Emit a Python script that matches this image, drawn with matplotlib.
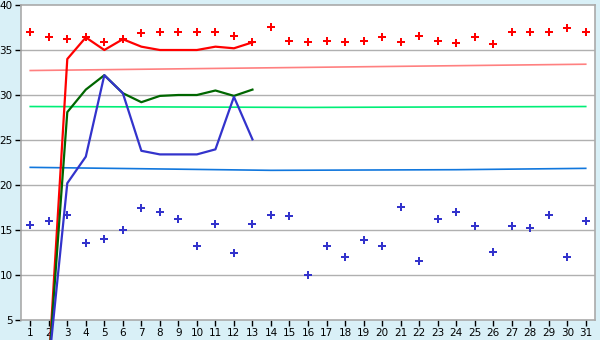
import matplotlib
matplotlib.use("Agg")
import matplotlib.pyplot as plt
import numpy as np

days = list(range(1, 32))

red_pts = [37.0, 36.4, 36.2, 36.4, 35.85, 36.2, 36.85, 36.96, 37.0, 37.0,
           37.0, 36.6, 35.85, 37.6, 35.96, 35.85, 35.96, 35.85, 35.96, 36.4,
           35.85, 36.6, 35.96, 35.74, 36.4, 35.63, 36.96, 37.0, 37.0, 37.5, 37.0]
blue_pts = [15.52, 15.96, 16.63, 13.52, 13.96, 14.96, 17.41, 16.97, 16.19, 13.19,
            15.63, 12.41, 15.63, 16.63, 16.52, 10.0, 13.19, 11.96, 13.85, 13.19,
            17.52, 11.52, 16.19, 16.97, 15.41, 12.52, 15.41, 15.19, 16.63, 11.96, 15.96]

line_days = list(range(2, 14))
red_line = [0.0, 34.0, 36.4, 35.0, 36.2, 35.37, 35.0, 35.0, 35.0, 35.37, 35.19, 35.85]
green_line = [0.0, 28.1, 30.6, 32.2, 30.2, 29.2, 29.9, 30.0, 30.0, 30.5, 29.9, 30.6]
blue_line = [0.0, 20.2, 23.15, 32.2, 30.2, 23.8, 23.4, 23.4, 23.4, 23.96, 29.8, 25.07]

pink_days = [1, 31]
pink_vals = [32.72, 33.42]
lgreen_days = [1, 16, 31]
lgreen_vals = [28.72, 28.62, 28.72]
lblue_days = [1, 14, 24, 31]
lblue_vals = [21.96, 21.63, 21.70, 21.85]

yticks = [5, 10, 15, 20, 25, 30, 35, 40]

bg = "#D9F0F7"
fig = plt.figure(figsize=(6, 3.4), dpi=100, facecolor=bg)
ax = fig.add_axes([21/600, 20/340, 574/600, 315/340])
ax.set_facecolor("white")

for y in yticks[1:-1]:
    ax.axhline(y, color="#B0B0B0", lw=1.0, zorder=1)

ax.plot(pink_days, pink_vals, color="#FF8080", lw=1.2, zorder=2)
ax.plot(lgreen_days, lgreen_vals, color="#00EE77", lw=1.2, zorder=2)
ax.plot(lblue_days, lblue_vals, color="#1177DD", lw=1.2, zorder=2)

ax.plot(line_days, red_line, color="#FF0000", lw=1.6, zorder=4, clip_on=False)
ax.plot(line_days, green_line, color="#006600", lw=1.6, zorder=4, clip_on=False)
ax.plot(line_days, blue_line, color="#3333CC", lw=1.6, zorder=4, clip_on=False)

ax.plot(days, red_pts, ls="none", marker="P", ms=5.5, color="#FF0000",
        markeredgewidth=0, zorder=5)
ax.plot(days, blue_pts, ls="none", marker="P", ms=5.5, color="#3333CC",
        markeredgewidth=0, zorder=5)

ax.set_xlim(0.5, 31.5)
ax.set_ylim(5, 40)
ax.set_xticks(days)
ax.set_xticklabels([str(d) for d in days])
ax.set_yticks(yticks)
ax.set_yticklabels([str(v) for v in yticks])
ax.tick_params(axis="both", direction="out", length=4, width=1, colors="black",
               labelsize=7.5, pad=2)
for s in ax.spines.values():
    s.set_color("#AAAAAA")
    s.set_linewidth(1.2)

fig.savefig("out.png", dpi=100, facecolor=bg)
